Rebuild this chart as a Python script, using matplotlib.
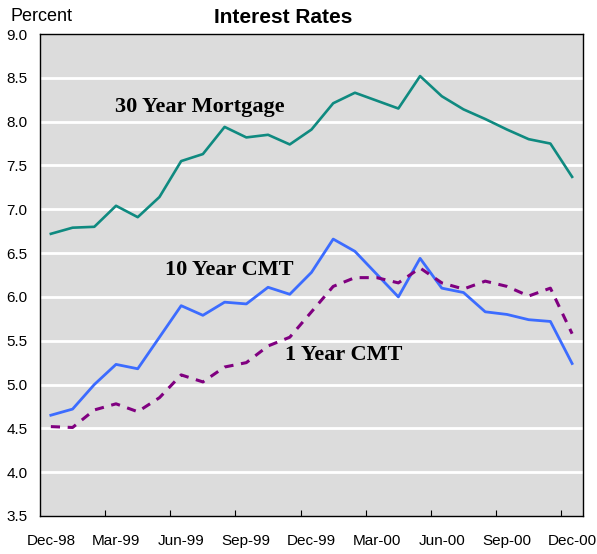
import matplotlib
matplotlib.use("Agg")
import matplotlib.pyplot as plt
import numpy as np

months = ["Dec-98", "Jan-99", "Feb-99", "Mar-99", "Apr-99", "May-99", "Jun-99", "Jul-99",
          "Aug-99", "Sep-99", "Oct-99", "Nov-99", "Dec-99", "Jan-00", "Feb-00", "Mar-00",
          "Apr-00", "May-00", "Jun-00", "Jul-00", "Aug-00", "Sep-00", "Oct-00", "Nov-00", "Dec-00"]

mortgage30 = [6.72, 6.79, 6.80, 7.04, 6.91, 7.14, 7.55, 7.63, 7.94, 7.82, 7.85, 7.74, 7.91,
              8.21, 8.33, 8.24, 8.15, 8.52, 8.29, 8.14, 8.03, 7.91, 7.80, 7.75, 7.37]
cmt10 = [4.65, 4.72, 5.00, 5.23, 5.18, 5.54, 5.90, 5.79, 5.94, 5.92, 6.11, 6.03, 6.28,
         6.66, 6.52, 6.26, 6.00, 6.44, 6.10, 6.05, 5.83, 5.80, 5.74, 5.72, 5.24]
cmt1 = [4.52, 4.51, 4.71, 4.78, 4.69, 4.85, 5.11, 5.03, 5.20, 5.25, 5.44, 5.54, 5.83,
        6.12, 6.22, 6.22, 6.16, 6.33, 6.16, 6.09, 6.18, 6.12, 6.01, 6.10, 5.58]

yticks = [3.5, 4.0, 4.5, 5.0, 5.5, 6.0, 6.5, 7.0, 7.5, 8.0, 8.5, 9.0]

fig = plt.figure(figsize=(5.97, 5.54), dpi=100)
ax = fig.add_axes([0.067, 0.0686, 0.9095, 0.87])
ax.set_facecolor("#dcdcdc")

x = np.arange(len(months))
ax.plot(x, mortgage30, color="#0f8a80", lw=1.9)
ax.plot(x, cmt10, color="#3c6cff", lw=2.0)
ax.plot(x, cmt1, color="#800080", lw=2.2, dashes=(3, 2.5))

ax.set_xlim(-0.5, 24.5)
ax.set_ylim(3.5, 9.0)
ax.set_yticks(yticks)
ax.set_yticklabels([f"{v:.1f}" for v in yticks], fontfamily="Liberation Sans", fontsize=11)
for v in yticks[1:-1]:
    ax.axhline(v, color="white", lw=2, zorder=0.5)

ax.set_xticks(np.arange(2.5, 24, 3))
ax.set_xticklabels([])
ax.set_xticks(np.arange(0, 25, 3), minor=True)
ax.set_xticklabels([months[i] for i in range(0, 25, 3)], minor=True,
                   fontfamily="Liberation Sans", fontsize=11)
ax.tick_params(axis="x", which="major", direction="in", length=4, width=0.8)
ax.tick_params(axis="x", which="minor", length=0, pad=13)
ax.tick_params(axis="y", length=0, pad=9)
for s in ax.spines.values():
    s.set_color("black")
    s.set_linewidth(1)

fig.text(0.017, 0.971, "Percent", fontfamily="Liberation Sans", fontsize=13, va="center", ha="left")
fig.text(0.474, 0.969, "Interest Rates", fontfamily="Liberation Sans", fontsize=15,
         fontweight="bold", va="center", ha="center")

ax.text(6.86, 8.17, "30 Year Mortgage", fontfamily="Liberation Serif", fontsize=16,
        fontweight="bold", ha="center", va="center")
ax.text(8.2, 6.31, "10 Year CMT", fontfamily="Liberation Serif", fontsize=16,
        fontweight="bold", ha="center", va="center")
ax.text(13.5, 5.34, "1 Year CMT", fontfamily="Liberation Serif", fontsize=16,
        fontweight="bold", ha="center", va="center")

fig.savefig("out.png", dpi=100)
